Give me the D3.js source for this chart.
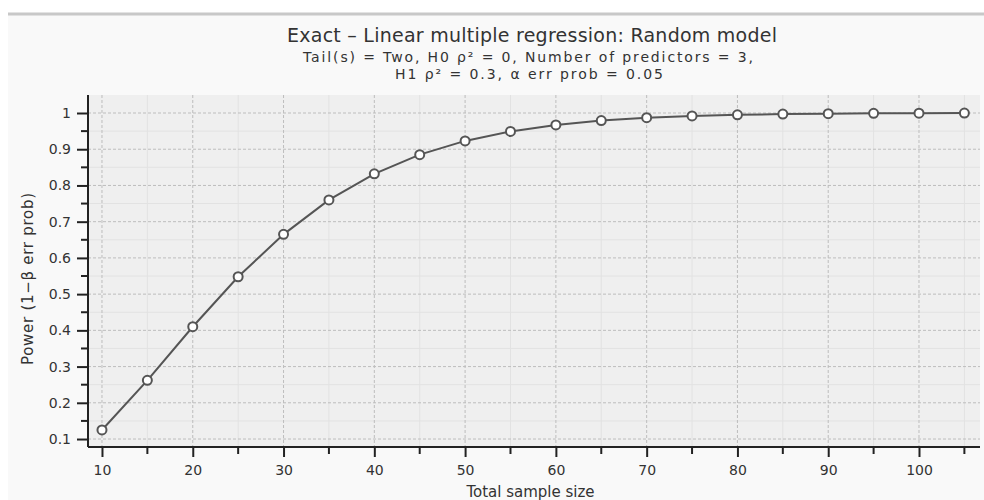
<!DOCTYPE html>
<html>
<head>
<meta charset="utf-8">
<script src="https://cdn.jsdelivr.net/npm/d3@7"></script>
<style>
  body { margin: 0; background: #ffffff; }
  text { font-family: "DejaVu Sans", sans-serif; fill: #333; }
</style>
</head>
<body>
<div id="chart"></div>
<script>
// data
var sampleSizes = [10, 15, 20, 25, 30, 35, 40, 45, 50, 55, 60, 65, 70, 75, 80, 85, 90, 95, 100, 105];
var powerValues = [0.125, 0.262, 0.41, 0.548, 0.665, 0.760, 0.832, 0.885, 0.923, 0.949, 0.967, 0.979, 0.987, 0.992, 0.995, 0.997, 0.998, 0.999, 0.9995, 0.9997];
var xTicks = [10, 20, 30, 40, 50, 60, 70, 80, 90, 100];
var xMinor = [15, 25, 35, 45, 55, 65, 75, 85, 95, 105];
var yTicks = [0.1, 0.2, 0.3, 0.4, 0.5, 0.6, 0.7, 0.8, 0.9, 1];
var yMinor = [0.15, 0.25, 0.35, 0.45, 0.55, 0.65, 0.75, 0.85, 0.95];
var titleLines = ["Exact \u2013 Linear multiple regression: Random model",
  "Tail(s) = Two, H0 \u03c1\u00b2 = 0, Number of predictors = 3,",
  "H1 \u03c1\u00b2 = 0.3, \u03b1 err prob = 0.05"];

var width = 984, height = 500;
var margin = {left: 88, right: 4, top: 95, bottom: 53};

var svg = d3.select("#chart").append("svg")
  .attr("width", width)
  .attr("height", height);

// panel background and top separator
svg.append("rect")
  .attr("x", 8).attr("y", 14)
  .attr("width", width - 8).attr("height", height - 14)
  .attr("fill", "#f9f9f9");
svg.append("line")
  .attr("x1", 8).attr("x2", width)
  .attr("y1", 14).attr("y2", 14)
  .attr("stroke", "#c8c8c8").attr("stroke-width", 3);

var x = d3.scaleLinear().domain([8.46, 106.72]).range([margin.left, width - margin.right]);
var y = d3.scaleLinear().domain([0.078, 1.0497]).range([height - margin.bottom, margin.top]);

// plot area
svg.append("rect")
  .attr("x", margin.left).attr("y", margin.top)
  .attr("width", width - margin.right - margin.left)
  .attr("height", height - margin.bottom - margin.top)
  .attr("fill", "#efefef");

// minor grid
svg.append("g").selectAll("line").data(xMinor).enter().append("line")
  .attr("x1", d => x(d)).attr("x2", d => x(d))
  .attr("y1", margin.top).attr("y2", height - margin.bottom)
  .attr("stroke", "#e2e2e2").attr("stroke-width", 1);
svg.append("g").selectAll("line").data(yMinor).enter().append("line")
  .attr("x1", margin.left).attr("x2", width - margin.right)
  .attr("y1", d => y(d)).attr("y2", d => y(d))
  .attr("stroke", "#e2e2e2").attr("stroke-width", 1);

// major grid (dashed)
svg.append("g").selectAll("line").data(xTicks).enter().append("line")
  .attr("x1", d => x(d)).attr("x2", d => x(d))
  .attr("y1", margin.top).attr("y2", height - margin.bottom)
  .attr("stroke", "#bdbdbd").attr("stroke-dasharray", "3,2");
svg.append("g").selectAll("line").data(yTicks).enter().append("line")
  .attr("x1", margin.left).attr("x2", width - margin.right)
  .attr("y1", d => y(d)).attr("y2", d => y(d))
  .attr("stroke", "#bdbdbd").attr("stroke-dasharray", "3,2");

// axes
var xAxis = svg.append("g")
  .attr("transform", "translate(0," + (height - margin.bottom) + ")")
  .call(d3.axisBottom(x).tickValues(xTicks).tickSize(10).tickPadding(8).tickFormat(d3.format("d")));
var yAxis = svg.append("g")
  .attr("transform", "translate(" + margin.left + ",0)")
  .call(d3.axisLeft(y).tickValues(yTicks).tickSize(11).tickPadding(6).tickFormat(d => d === 1 ? "1" : d3.format(".1f")(d)));

[xAxis, yAxis].forEach(function(a){
  a.select(".domain").attr("stroke", "#222").attr("stroke-width", 2);
  a.selectAll(".tick line").attr("stroke", "#222").attr("stroke-width", 2);
  a.selectAll(".tick text").style("font-size", "14px").style("font-family", "DejaVu Sans").attr("fill", "#333");
});
xAxis.select(".domain").attr("d", "M" + margin.left + ",0H" + (width - margin.right));
yAxis.select(".domain").attr("d", "M0," + (height - margin.bottom) + "V" + margin.top);

// minor ticks
svg.append("g").selectAll("line").data(xMinor).enter().append("line")
  .attr("x1", d => x(d)).attr("x2", d => x(d))
  .attr("y1", height - margin.bottom).attr("y2", height - margin.bottom + 7)
  .attr("stroke", "#222").attr("stroke-width", 2);
svg.append("g").selectAll("line").data(yMinor).enter().append("line")
  .attr("x1", margin.left - 7).attr("x2", margin.left)
  .attr("y1", d => y(d)).attr("y2", d => y(d))
  .attr("stroke", "#222").attr("stroke-width", 2);

// line and points
var points = sampleSizes.map(function(n, i){ return {n: n, p: powerValues[i]}; });
var line = d3.line().x(d => x(d.n)).y(d => y(d.p));
svg.append("path")
  .datum(points)
  .attr("d", line)
  .attr("fill", "none")
  .attr("stroke", "#555")
  .attr("stroke-width", 2);
svg.append("g").selectAll("circle").data(points).enter().append("circle")
  .attr("cx", d => x(d.n))
  .attr("cy", d => y(d.p))
  .attr("r", 4.5)
  .attr("fill", "#fff")
  .attr("stroke", "#555")
  .attr("stroke-width", 2);

// titles
svg.append("text")
  .attr("x", 532).attr("y", 42)
  .attr("text-anchor", "middle")
  .attr("textLength", 490)
  .style("font-size", "19px")
  .text(titleLines[0]);
svg.append("text")
  .attr("x", 528).attr("y", 62)
  .attr("text-anchor", "middle")
  .attr("textLength", 450)
  .style("font-size", "14px")
  .text(titleLines[1]);
svg.append("text")
  .attr("x", 529).attr("y", 79)
  .attr("text-anchor", "middle")
  .attr("textLength", 268)
  .style("font-size", "14px")
  .text(titleLines[2]);

// axis labels
svg.append("text")
  .attr("x", 530.5)
  .attr("y", 497)
  .attr("text-anchor", "middle")
  .style("font-size", "15px")
  .text("Total sample size");
svg.append("text")
  .attr("transform", "translate(33," + 279 + ") rotate(-90)")
  .attr("text-anchor", "middle")
  .attr("textLength", 172)
  .style("font-size", "15px")
  .text("Power (1\u2212\u03b2 err prob)");
</script>
</body>
</html>
